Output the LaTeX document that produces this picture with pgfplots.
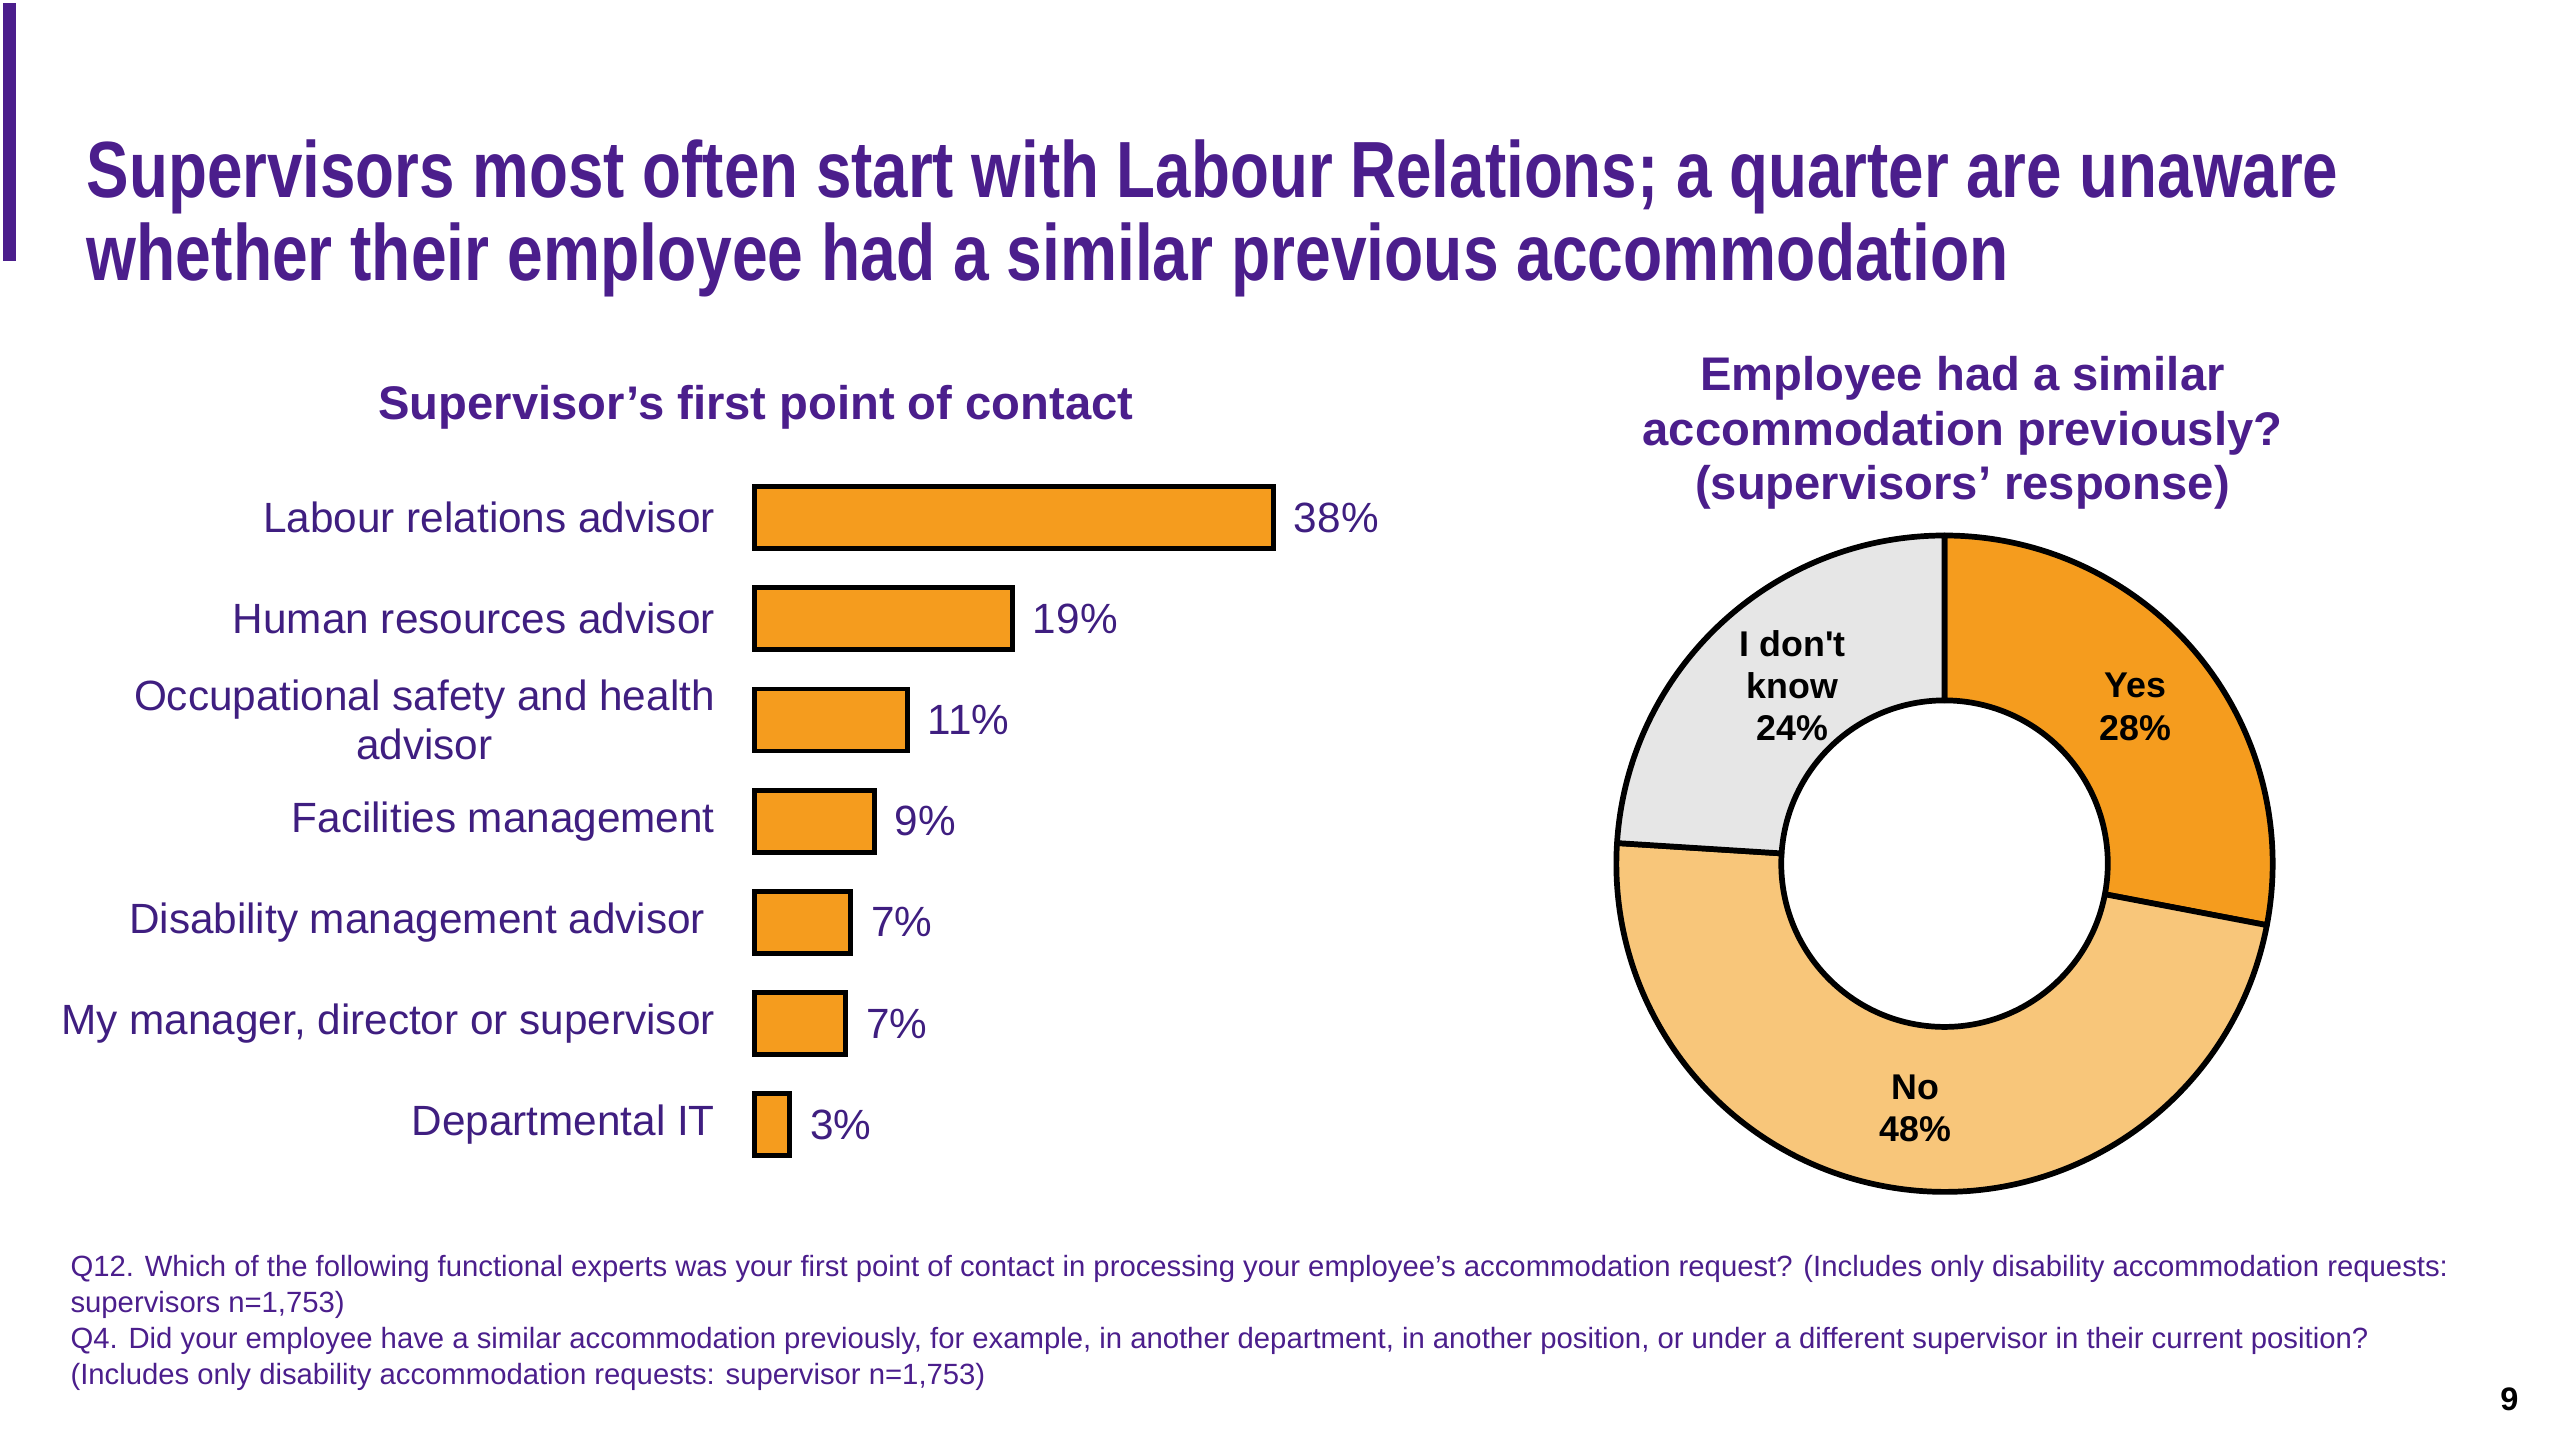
\documentclass[border=0pt]{standalone}
\usepackage{pgfplots}
\pgfplotsset{compat=1.18}
\usepackage{pgfplotstable}
\usepackage{fontspec}
\setmainfont{Liberation Sans}
\usepackage{graphicx}
\definecolor{tpurple}{HTML}{4B1E8C}
\definecolor{lpurple}{HTML}{3F1E80}
\definecolor{barorange}{HTML}{F59C1E}
\definecolor{lightorange}{HTML}{F8C67A}
\definecolor{lightgrey}{HTML}{E6E6E6}

\pgfplotstableread{
name value
Yes 28
No 48
DK 24
}\piedata

\begin{document}
\begin{tikzpicture}[x=1bp,y=1bp]
\fill[tpurple] (2,722) rectangle (10,880);
% main title
\node[anchor=base west, inner sep=0pt, text=tpurple, font=\fontsize{49}{51}\selectfont\bfseries] at (53,761)
  {\resizebox{1379bp}{\height}{Supervisors most often start with Labour Relations; a quarter are unaware}};
\node[anchor=base west, inner sep=0pt, text=tpurple, font=\fontsize{49}{51}\selectfont\bfseries] at (53,710)
  {\resizebox{1177bp}{\height}{whether their employee had a similar previous accommodation}};
% left subtitle
\node[anchor=base, inner sep=0pt, text=tpurple, font=\fontsize{29}{34}\selectfont\bfseries] at (463,625)
  {Supervisor’s first point of contact};
% right subtitle
\node[anchor=base, inner sep=0pt, text=tpurple, font=\fontsize{29}{34}\selectfont\bfseries] at (1202,643) {Employee had a similar};
\node[anchor=base, inner sep=0pt, text=tpurple, font=\fontsize{29}{34}\selectfont\bfseries] at (1202,609) {accommodation previously?};
\node[anchor=base, inner sep=0pt, text=tpurple, font=\fontsize{29}{34}\selectfont\bfseries] at (1202,576) {(supervisors’ response)};

% bar chart
\begin{axis}[at={(462bp,162bp)}, anchor=south west,
  xbar, x=8.37bp, y=62bp,
  xmin=0, xmax=40, ymin=-0.5, ymax=6.5,
  enlargelimits=false, clip=false,
  axis line style={draw=none}, major tick length=0pt,
  xtick=\empty, ytick={0,1,2,3,4,5,6},
  yticklabels={Departmental IT, {My manager, director or supervisor}, {Disability management advisor\hspace*{6bp}}, Facilities management, {Occupational safety and health\\advisor}, Human resources advisor, Labour relations advisor},
  yticklabel style={font=\fontsize{26}{30}\selectfont, text=lpurple, align=center, inner sep=0pt, anchor=east, xshift=-24bp},
  bar width=38bp,
  nodes near coords, point meta=explicit symbolic,
  every node near coord/.append style={font=\fontsize{26}{30}\selectfont, text=lpurple, anchor=west, inner sep=0pt, xshift=11bp},
]
\addplot[fill=barorange, draw=black, line width=3bp] coordinates {
 (2.6,0) [3\%]
 (6.7,1) [7\%]
 (7.05,2) [7\%]
 (8.8,3) [9\%]
 (11.2,4) [11\%]
 (18.9,5) [19\%]
 (38,6) [38\%]
};
\end{axis}

% donut
\pgfplotstablegetelem{0}{value}\of\piedata \let\vYes\pgfplotsretval
\pgfplotstablegetelem{1}{value}\of\piedata \let\vNo\pgfplotsretval
\pgfplotstablegetelem{2}{value}\of\piedata \let\vDK\pgfplotsretval
\pgfmathsetmacro\aA{90-3.6*\vYes}
\pgfmathsetmacro\aB{\aA-3.6*\vNo}
\pgfmathsetmacro\aC{\aB-3.6*\vDK}
\begin{axis}[at={(1191bp,353bp)}, anchor=center, hide axis,
  x=1bp, y=1bp, xmin=-210, xmax=210, ymin=-210, ymax=210, clip=false]
\filldraw[fill=barorange, draw=black, line width=3.5bp, line join=round]
  ({201*cos(90)},{201*sin(90)}) arc[start angle=90, end angle=\aA, radius=201bp]
  -- ({100*cos(\aA)},{100*sin(\aA)}) arc[start angle=\aA, end angle=90, radius=100bp] -- cycle;
\filldraw[fill=lightorange, draw=black, line width=3.5bp, line join=round]
  ({201*cos(\aA)},{201*sin(\aA)}) arc[start angle=\aA, end angle=\aB, radius=201bp]
  -- ({100*cos(\aB)},{100*sin(\aB)}) arc[start angle=\aB, end angle=\aA, radius=100bp] -- cycle;
\filldraw[fill=lightgrey, draw=black, line width=3.5bp, line join=round]
  ({201*cos(\aB)},{201*sin(\aB)}) arc[start angle=\aB, end angle=\aC, radius=201bp]
  -- ({100*cos(\aC)},{100*sin(\aC)}) arc[start angle=\aC, end angle=\aB, radius=100bp] -- cycle;
\node[font=\fontsize{22}{26}\selectfont\bfseries, align=center, inner sep=0pt] at (117,96) {Yes\\28\%};
\node[font=\fontsize{22}{26}\selectfont\bfseries, align=center, inner sep=0pt] at (-18,-150) {No\\48\%};
\node[font=\fontsize{22}{26}\selectfont\bfseries, align=center, inner sep=0pt] at (-93,109) {I don\textquotesingle t\\know\\24\%};
\end{axis}

% footnotes
\node[anchor=base west, inner sep=0pt, text=tpurple, font=\fontsize{18}{22}\selectfont] at (43,100)
  {Q12. Which of the following functional experts was your first point of contact in processing your employee’s accommodation request? (Includes only disability accommodation requests:};
\node[anchor=base west, inner sep=0pt, text=tpurple, font=\fontsize{18}{22}\selectfont] at (43,78)
  {supervisors n=1,753)};
\node[anchor=base west, inner sep=0pt, text=tpurple, font=\fontsize{18}{22}\selectfont] at (43,56)
  {Q4. Did your employee have a similar accommodation previously, for example, in another department, in another position, or under a different supervisor in their current position?};
\node[anchor=base west, inner sep=0pt, text=tpurple, font=\fontsize{18}{22}\selectfont] at (43,34)
  {(Includes only disability accommodation requests: supervisor n=1,753)};
\node[font=\fontsize{20}{24}\selectfont\bfseries] at (1537,25) {9};
\pgfresetboundingbox
\useasboundingbox (0,0) rectangle (1568,882);
\end{tikzpicture}
\end{document}
